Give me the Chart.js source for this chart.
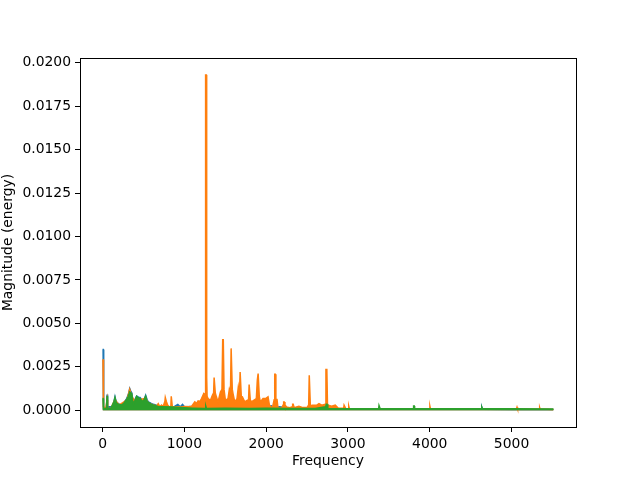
<!DOCTYPE html>
<html>
<head>
<meta charset="utf-8">
<title>Magnitude spectrum</title>
<script src="https://cdn.jsdelivr.net/npm/chart.js@4/dist/chart.umd.min.js"></script>
<style>
    html, body { margin: 0; padding: 0; background: #fff; }
    canvas { display: block; }
</style>
</head>
<body>
<canvas id="spectrumChart" width="640" height="480"></canvas>
<script>
/* ========================================
   Magnitude spectrum - three channels
   values: [frequency, magnitude]
   ======================================== */

const xTicks = [0, 1000, 2000, 3000, 4000, 5000];
const yTicks = [0, 0.0025, 0.005, 0.0075, 0.01, 0.0125, 0.015, 0.0175, 0.02];

const blueSpectrum = [
    [0,0.0035],[8,0.0035],[14,0.0002],[30,0.0001],[48,0.0001],[55,0.0009],[62,0.0002],[90,0.0002],[120,0.0002],
    [140,0.0005],[152,0.00077],[165,0.0005],[193,0.00038],[220,0.0003],[250,0.0003],[270,0.0005],
    [295,0.00067],[315,0.0009],[332,0.00125],[345,0.0011],[357,0.001],[370,0.0006],[378,0.00038],
    [395,0.0006],[417,0.00082],[440,0.00075],[458,0.00073],[480,0.0006],[498,0.00057],[515,0.0007],
    [527,0.00086],[545,0.0006],[560,0.00048],[590,0.0004],[620,0.00034],[650,0.0003],[700,0.00025],
    [760,0.0002],[820,0.0002],[880,0.00022],[920,0.00033],[950,0.0002],[978,0.00034],[1000,0.0002],
    [1100,0.00022],[1200,0.0002],[1400,0.0002],[1700,0.0002],[2000,0.0002],[2063,0.00025],[2100,0.00015],
    [2160,0.0002],[2300,0.00012],[2500,0.0001],[2800,0.00008],[3000,0.00006],[3500,0.00005],[3700,0.00007],
    [4000,0.00006],[4300,0.00005],[4630,0.00007],[4637,0.00017],[4645,0.00005],[5000,0.00004],[5512,0.00004]
];

const orangeSpectrum = [
    [0,0.0029],[6,0.0029],[12,0.0002],[40,0.0001],[55,0.0006],[62,0.0001],[100,0.0001],[152,0.0006],[200,0.0003],
    [300,0.0006],[332,0.0012],[357,0.0008],[400,0.0005],[458,0.0006],[527,0.0007],[560,0.0004],[620,0.0003],
    [660,0.00025],[681,0.00038],[700,0.0002],[722,0.0003],[740,0.0002],[762,0.0005],[767,0.00073],[774,0.00073],
    [780,0.0005],[795,0.0003],[815,0.0002],[835,0.0002],[840,0.0008],[847,0.0008],[853,0.0002],[880,0.00018],
    [920,0.0002],[960,0.00018],[1000,0.00022],[1050,0.0002],[1090,0.00023],[1128,0.00048],[1150,0.0004],
    [1168,0.00054],[1190,0.0005],[1210,0.00067],[1238,0.00096],[1254,0.0009],[1258,0.0019],[1262,0.0193],
    [1269,0.0193],[1273,0.0019],[1278,0.0008],[1290,0.00067],[1319,0.00057],[1343,0.00086],[1358,0.001],[1364,0.00188],
    [1371,0.00188],[1378,0.001],[1392,0.00077],[1412,0.00048],[1441,0.00105],[1460,0.0012],[1469,0.00406],[1476,0.00406],
    [1485,0.0012],[1502,0.00057],[1534,0.00067],[1550,0.0012],[1564,0.001],[1572,0.00356],[1579,0.00356],[1586,0.0012],
    [1595,0.00096],[1616,0.00048],[1644,0.00067],[1660,0.00134],[1674,0.0009],[1682,0.0022],[1689,0.0022],[1696,0.0008],
    [1709,0.00077],[1738,0.00048],[1766,0.00057],[1785,0.0006],[1792,0.00148],[1799,0.00148],[1806,0.0006],
    [1819,0.00048],[1848,0.00057],[1880,0.00067],[1892,0.00172],[1902,0.00211],[1909,0.00211],[1916,0.0008],
    [1929,0.00048],[1962,0.00067],[1994,0.00067],[2023,0.00077],[2040,0.0003],[2060,0.00019],[2080,0.0002],
    [2098,0.0006],[2105,0.00207],[2112,0.00207],[2119,0.0006],[2133,0.00061],[2145,0.00013],[2190,0.00013],
    [2208,0.0003],[2214,0.00048],[2221,0.00048],[2230,0.0003],[2250,0.00019],[2290,0.00015],[2318,0.0002],
    [2324,0.00034],[2331,0.00034],[2342,0.00015],[2400,0.00023],[2450,0.00015],[2500,0.00015],[2520,0.0003],
    [2527,0.00201],[2534,0.00201],[2541,0.0002],[2560,0.00029],[2620,0.00029],[2646,0.00038],[2680,0.00029],
    [2722,0.00035],[2731,0.00234],[2742,0.00234],[2750,0.0003],[2800,0.00023],[2845,0.00029],[2880,0.00012],
    [2948,0.00012],[2953,0.00029],[2960,0.00029],[2975,0.00008],[3005,0.0001],[3010,0.00023],[3017,0.0001],
    [3050,0.00006],[3100,0.00008],[3200,0.00005],[3300,0.00007],[3400,0.00006],[3500,0.00005],[3600,0.00008],
    [3700,0.00005],[3800,0.00006],[3900,0.00005],[3995,0.00008],[4002,0.00023],[4009,0.00008],[4050,0.00005],
    [4200,0.00007],[4300,0.00005],[4400,0.00006],[4500,0.00007],[4600,0.00006],[4700,0.00005],[4800,0.00007],
    [4900,0.00005],[5060,0.00007],[5067,0.00017],[5074,0.00007],[5150,0.00005],[5250,0.00005],[5338,0.00006],
    [5344,0.00015],[5350,0.00006],[5420,0.00005],[5512,0.00004]
];

const greenSpectrum = [
    [0,0.00067],[6,0.00067],[12,0.0001],[48,0.0001],[55,0.00081],[62,0.0001],[100,0.0001],[140,0.0005],[152,0.00073],
    [170,0.0004],[193,0.00035],[230,0.0003],[260,0.0004],[295,0.00062],[315,0.0008],[332,0.00105],
    [345,0.001],[357,0.00095],[370,0.0005],[378,0.00035],[400,0.0006],[417,0.0008],[440,0.0007],
    [458,0.00068],[480,0.00055],[498,0.00052],[527,0.0008],[545,0.0005],[560,0.00045],[590,0.00035],
    [620,0.0003],[680,0.00022],[750,0.0002],[850,0.00018],[950,0.00015],[1100,0.00012],[1255,0.0001],
    [1262,0.00023],[1270,0.0001],[1500,0.00012],[1800,0.0001],[2000,0.00012],[2300,0.0001],[2600,0.0001],
    [2728,0.0002],[2736,0.00034],[2744,0.00034],[2754,0.0001],[3000,0.00009],[3376,0.00009],[3380,0.00027],
    [3388,0.00027],[3394,0.00009],[3800,0.00009],[3803,0.00025],[3811,0.00025],[3815,0.00009],[4200,0.00008],
    [4630,0.00009],[4637,0.00017],[4645,0.00008],[5000,0.00008],[5512,0.00007]
];

const FONT = { family: 'DejaVu Sans', size: 13.9 };

// matplotlib draws a full box round the axes; Chart.js only gives left/bottom
const frameBox = {
    id: 'frameBox',
    afterDraw(chart) {
        const { ctx, chartArea: a } = chart;
        ctx.save();
        ctx.strokeStyle = '#000';
        ctx.lineWidth = 1;
        ctx.strokeRect(Math.round(a.left) + 0.5, Math.round(a.top) + 0.5,
            Math.round(a.right - a.left), Math.round(a.bottom - a.top));
        ctx.restore();
    }
};

function series(points, color, order) {
    return {
        data: points.map(([x, y]) => ({ x, y })),
        borderColor: color,
        backgroundColor: color,
        borderWidth: 1.5,
        pointRadius: 0,
        tension: 0,
        fill: 'origin',
        order
    };
}

function axis(min, max, tickValues, fmt, title, extra) {
    return Object.assign({
        type: 'linear',
        min, max,
        afterBuildTicks: s => { s.ticks = tickValues.map(v => ({ value: v })); },
        ticks: { color: '#000', font: FONT, padding: 4, autoSkip: false, maxRotation: 0, callback: fmt },
        grid: { drawOnChartArea: false, drawTicks: true, tickLength: 5, color: '#000', lineWidth: 1 },
        border: { display: true, color: '#000', width: 1 },
        title: { display: true, text: title, color: '#000', font: FONT, padding: { top: 0, bottom: 0 } }
    }, extra);
}

new Chart(document.getElementById('spectrumChart'), {
    type: 'line',
    data: {
        datasets: [
            series(blueSpectrum, '#1f77b4', 3),
            series(orangeSpectrum, '#ff7f0e', 2),
            series(greenSpectrum, '#2ca02c', 1)
        ]
    },
    options: {
        responsive: false,
        animation: false,
        devicePixelRatio: 1,
        layout: { padding: { left: 0, right: 64, top: 58, bottom: 0 } },
        plugins: { legend: { display: false }, tooltip: { enabled: false } },
        scales: {
            x: axis(-275.6, 5788, xTicks, v => String(v), 'Frequency', {
                afterFit: s => { s.height = 53; },
                title: { display: true, text: 'Frequency', color: '#000', font: FONT, padding: { top: 0, bottom: 10 } }
            }),
            y: axis(-0.000966, 0.02028, yTicks, v => v.toFixed(4), 'Magnitude (energy)', {
                afterFit: s => { s.width = 80; }
            })
        }
    },
    plugins: [frameBox]
});
</script>
</body>
</html>
